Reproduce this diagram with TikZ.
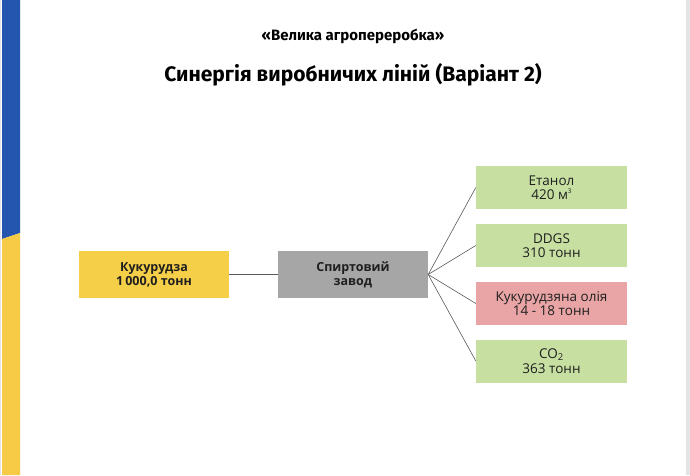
\documentclass[tikz,border=0pt]{standalone}
\usepackage{fontspec}
\setmainfont{Open Sans}
\newfontfamily\titlefont{Fira Sans}
\usepackage{tikz}
\usetikzlibrary{positioning}
\definecolor{uablue}{RGB}{36,86,176}
\definecolor{uayellow}{RGB}{247,203,70}
\definecolor{cornyellow}{RGB}{245,207,72}
\definecolor{plantgray}{RGB}{166,166,166}
\definecolor{prodgreen}{RGB}{199,224,162}
\definecolor{prodpink}{RGB}{233,165,165}
\definecolor{linkgray}{RGB}{90,90,90}
\definecolor{pageedge}{RGB}{228,228,230}
\newcommand{\cubesup}{\raisebox{0.9ex}{\fontsize{6.5}{7}\selectfont 3}}
\tikzset{
  inbox/.style={minimum width=150pt, minimum height=47pt, align=center, inner sep=0pt, font=\fontsize{12.5}{14}\selectfont\bfseries, text=black!88},
  prodbox/.style={minimum width=151pt, minimum height=43pt, align=center, inner sep=0pt, font=\fontsize{13.5}{14.5}\selectfont, text=black!88},
  link/.style={draw=linkgray, line width=0.6pt}
}

\begin{document}
\begin{tikzpicture}[x=1pt, y=-1pt]
            % page and side stripe
            \useasboundingbox (0,0) rectangle (690,475);
            \fill[pageedge] (0,0) rectangle (690,475);
            \fill[white] (1,0) rectangle (686,475);
            \fill[uablue] (2,0) -- (20,0) -- (20,233) -- (2,239) -- cycle;
            \fill[uayellow] (2,239) -- (20,233) -- (20,475) -- (2,475) -- cycle;

            % headings
            \node[font=\titlefont\fontsize{15}{17}\selectfont\bfseries] (subtitle) at (353,36) {«Велика агропереробка»};
            \node[font=\titlefont\fontsize{21}{23}\selectfont\bfseries] (title) at (353,75) {Синергія виробничих ліній (Варіант 2)};

            % input and plant
            \node[inbox, fill=cornyellow] (corn) at (154,274.5) {Кукурудза\\1\,000,0 тонн};
            \node[inbox, fill=plantgray] (plant) at (353,274.5) {Спиртовий\\завод};

            % products
            \node[prodbox, fill=prodgreen] (ethanol) at (551.5,187.5) {Етанол\\420 м\cubesup};
            \node[prodbox, fill=prodgreen] (ddgs) at (551.5,245.5) {DDGS\\310 тонн};
            \node[prodbox, fill=prodpink] (oil) at (551.5,303.5) {Кукурудзяна олія\\14 - 18 тонн};
            \node[prodbox, fill=prodgreen] (co2) at (551.5,361) {CO\textsubscript{2}\\363 тонн};

            % connectors
            \draw[link] (corn.east) -- (plant.west);
            \foreach \prod in {ethanol, ddgs, oil, co2}
                \draw[link] (plant.east) -- (\prod.west);
        \end{tikzpicture}
\end{document}
